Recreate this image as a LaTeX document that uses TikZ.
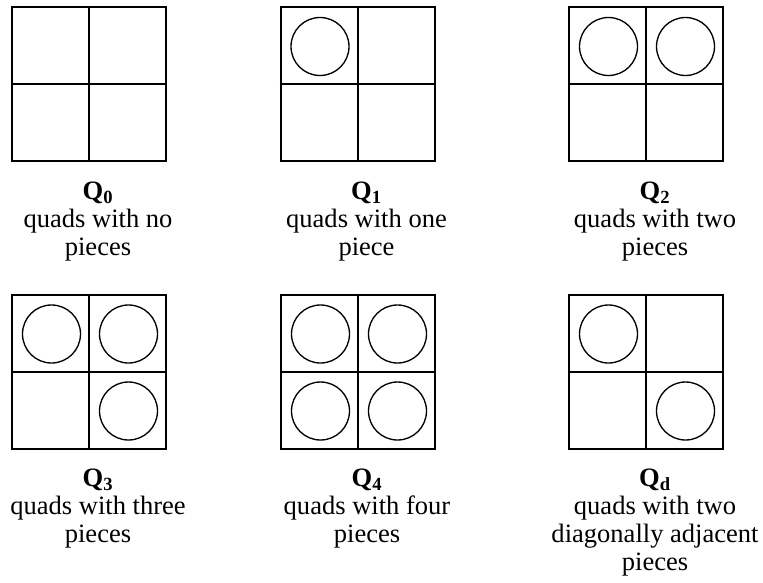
\documentclass[tikz,border=0pt]{standalone}
\usepackage{fontspec}
\setmainfont{Liberation Serif}
\usetikzlibrary{positioning,calc}

\begin{document}
\begin{tikzpicture}[x=0.75pt,y=-0.75pt,font=\fontsize{19.9}{21}\selectfont,
  quad/.style={draw,line width=1.5pt,minimum size=115.5pt,inner sep=0pt},
  piece/.style={draw,line width=1pt},
  caption/.style={below=14.5pt of #1,xshift=6.75pt,align=center,inner sep=0pt}]
\useasboundingbox (0,0) rectangle (763,582);
% the six quads
\node[quad] (q0) at (89,84) {};
\node[quad] (q1) at (357.5,84) {};
\node[quad] (q2) at (646,84) {};
\node[quad] (q3) at (89,371.5) {};
\node[quad] (q4) at (358,371.5) {};
\node[quad] (qd) at (646,371.5) {};
\foreach \q in {q0,q1,q2,q3,q4,qd}
  \draw[line width=1.5pt] (\q.north)--(\q.south) (\q.west)--(\q.east);
% pieces in the cells
\foreach \q/\dx/\dy in {q1/-1/-1, q2/-1/-1, q2/1/-1, q3/-1/-1, q3/1/-1, q3/1/1,
    q4/-1/-1, q4/1/-1, q4/-1/1, q4/1/1, qd/-1/-1, qd/1/1}
  \draw[piece] ($(\q.center)+(38.5*\dx+1,38.5*\dy+1)$) circle (29);
% captions
\node[caption=q0] (c0) {\textbf{Q\textsubscript{0}}\\quads with no\\pieces};
\node[caption=q1] (c1) {\textbf{Q\textsubscript{1}}\\quads with one\\piece};
\node[caption=q2] (c2) {\textbf{Q\textsubscript{2}}\\quads with two\\pieces};
\node[caption=q3] (c3) {\textbf{Q\textsubscript{3}}\\quads with three\\pieces};
\node[caption=q4] (c4) {\textbf{Q\textsubscript{4}}\\quads with four\\pieces};
\node[caption=qd] (cd) {\textbf{Q\textsubscript{d}}\\quads with two\\diagonally adjacent\\pieces};
\end{tikzpicture}
\end{document}
